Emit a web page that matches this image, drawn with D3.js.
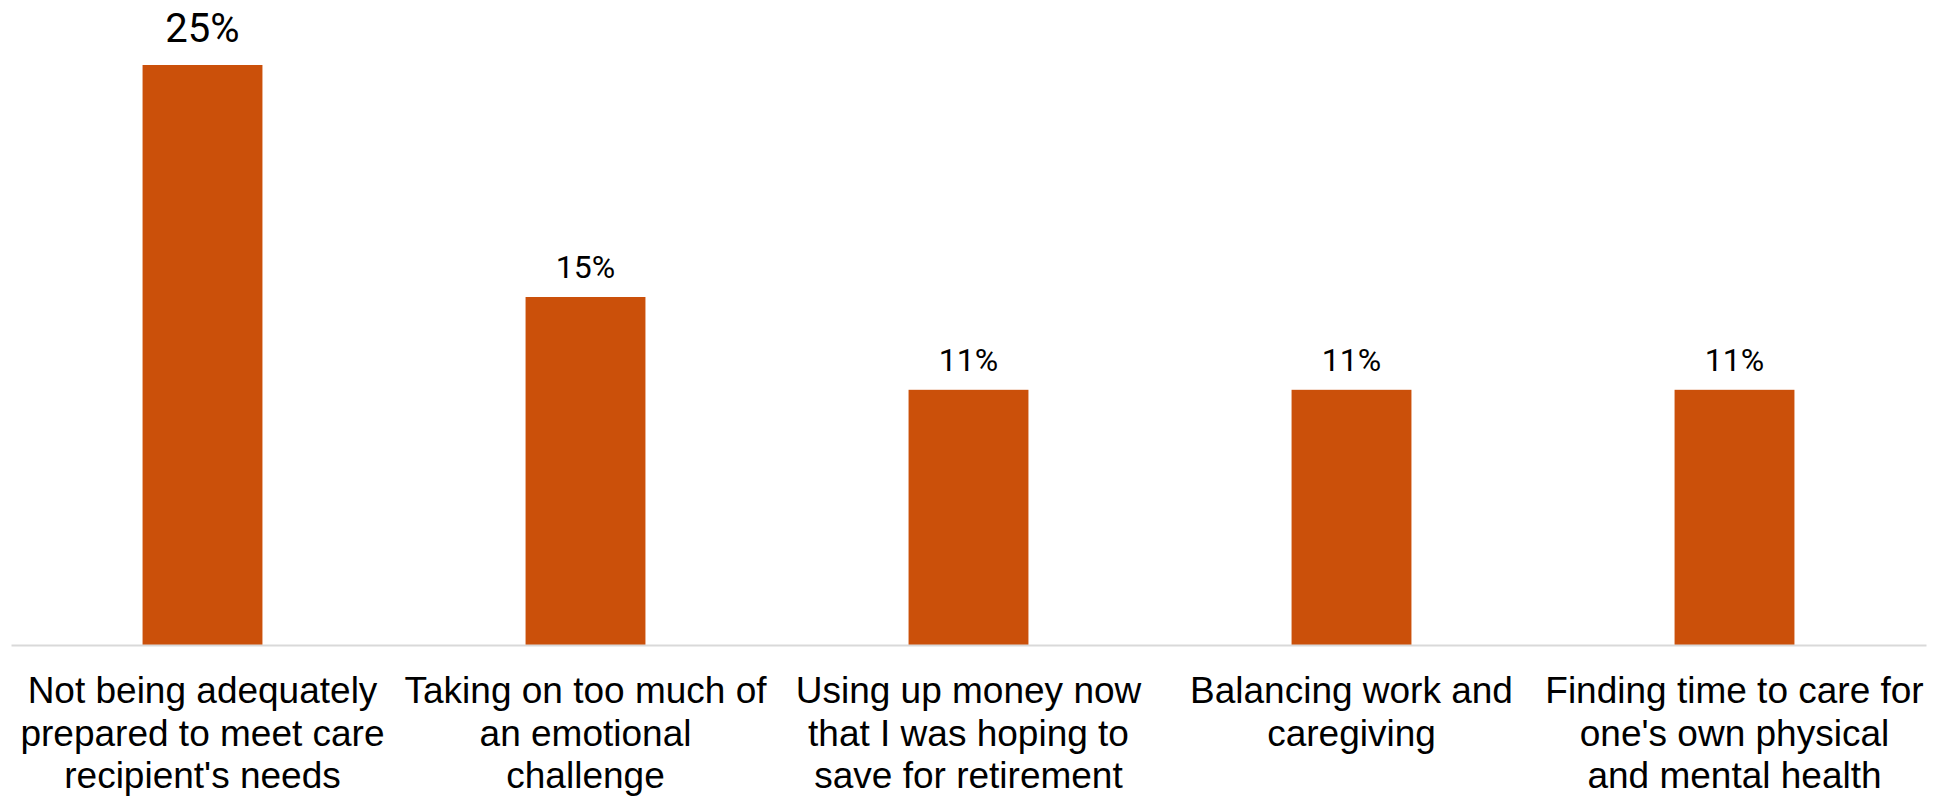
<!DOCTYPE html>
<html>
<head>
<meta charset="utf-8">
<script src="https://cdn.jsdelivr.net/npm/d3@7/dist/d3.min.js"></script>
<style>
  html, body { margin: 0; padding: 0; background: #ffffff; }
  svg { display: block; }
</style>
</head>
<body>
<svg id="chart" width="1939" height="799"></svg>
<script>
// Share of caregivers naming each as their biggest concern (%)
const categories = [
  "Not being adequately prepared to meet care recipient's needs",
  "Taking on too much of an emotional challenge",
  "Using up money now that I was hoping to save for retirement",
  "Balancing work and caregiving",
  "Finding time to care for one's own physical and mental health"
];
const categoryLines = [
  ["Not being adequately", "prepared to meet care", "recipient's needs"],
  ["Taking on too much of", "an emotional", "challenge"],
  ["Using up money now", "that I was hoping to", "save for retirement"],
  ["Balancing work and", "caregiving"],
  ["Finding time to care for", "one's own physical", "and mental health"]
];
const values = [25, 15, 11, 11, 11];
const valueLabels = ["25%", "15%", "11%", "11%", "11%"];

const svg = d3.select("#chart");
const baseY = 645;

const x = d3.scaleBand()
  .domain(categories)
  .range([11, 1926])
  .paddingInner(0.687)
  .paddingOuter(0.3435);

const y = d3.scaleLinear()
  .domain([0, 25])
  .range([baseY, 65]);

const data = categories.map((c, i) => ({ cat: c, value: values[i], label: valueLabels[i], lines: categoryLines[i] }));
const maxVal = d3.max(values);

// bars
svg.append("g")
  .selectAll("rect")
  .data(data)
  .join("rect")
  .attr("x", d => x(d.cat))
  .attr("y", d => y(d.value))
  .attr("width", x.bandwidth())
  .attr("height", d => y(0) - y(d.value))
  .attr("fill", "#cb500a");

// baseline axis
const axis = d3.axisBottom(x).tickSize(0).tickFormat("");
const axisG = svg.append("g")
  .attr("transform", `translate(0,${baseY})`)
  .call(axis);
axisG.select(".domain")
  .attr("stroke", "#d9d9d9")
  .attr("stroke-width", 2);

// value labels above bars
svg.append("g")
  .selectAll("text")
  .data(data)
  .join("text")
  .attr("x", d => x(d.cat) + x.bandwidth() / 2)
  .attr("y", d => y(d.value) - (d.value === maxVal ? 23 : 19))
  .attr("text-anchor", "middle")
  .attr("font-family", "Roboto, sans-serif")
  .attr("font-size", d => d.value === maxVal ? 40 : 32)
  .attr("fill", "#000000")
  .text(d => d.label);

// category labels, wrapped onto fixed lines
const catG = svg.append("g")
  .selectAll("text")
  .data(data)
  .join("text")
  .attr("text-anchor", "middle")
  .attr("font-family", "'Liberation Sans', Arial, sans-serif")
  .attr("font-size", 37)
  .attr("fill", "#000000");

catG.each(function(d) {
  const t = d3.select(this);
  const cx = x(d.cat) + x.bandwidth() / 2;
  d.lines.forEach((ln, i) => {
    t.append("tspan")
      .attr("x", cx)
      .attr("y", 703 + i * 42.5)
      .text(ln);
  });
});
</script>
</body>
</html>
